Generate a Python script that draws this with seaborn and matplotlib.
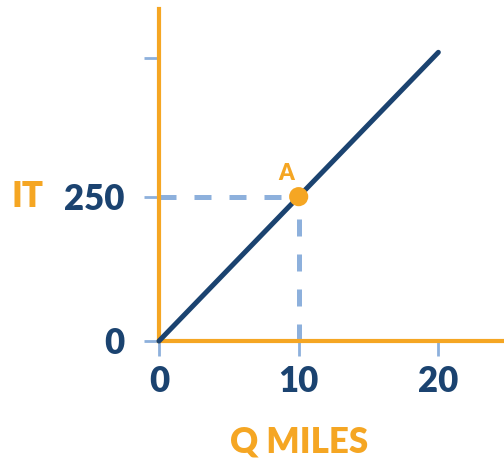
import numpy as np
import pandas as pd
import seaborn as sns
import matplotlib.pyplot as plt

# %% Values
q_miles = [0, 10, 20]
it_vals = [0, 250, 500]

point_q = [10]
point_it = [250]
point_label = 'A'

x_ticks = [0, 10, 20]
x_tick_labels = ['0', '10', '20']
y_ticks = [0, 250, 490]
y_tick_labels = ['0', '250', '']

x_max = 24.7
y_max = 575

# %% Colours
orange = '#F5A623'
navy = '#1B4370'
light_blue = '#8DB0DC'

sns.set_style('white')
plt.rcParams['font.family'] = ['Lato', 'DejaVu Sans']

fig = plt.figure(figsize=(5.04, 4.62), dpi=100)
ax = fig.add_axes([159 / 504, 121 / 462, 345 / 504, 332 / 462])

line_df = pd.DataFrame({'q': q_miles, 'it': it_vals})
pt_df = pd.DataFrame({'q': point_q, 'it': point_it})

# dashed guide lines to the point
ax.plot([0, point_q[0]], [point_it[0], point_it[0]], color=light_blue, lw=3.6,
        dashes=(3.4, 3.6), zorder=2, clip_on=False)
ax.plot([point_q[0], point_q[0]], [0, point_it[0]], color=light_blue, lw=3.6,
        dashes=(3.4, 3.6), zorder=2, clip_on=False)

sns.lineplot(data=line_df, x='q', y='it', color=navy, lw=3.6, ax=ax,
             zorder=4, clip_on=False, solid_capstyle='round')
sns.scatterplot(data=pt_df, x='q', y='it', color=orange, s=190, ax=ax,
                zorder=5, edgecolor='none', clip_on=False)
ax.text(point_q[0] - 0.9, point_it[0] + 22, point_label, color=orange,
        fontsize=16, fontweight='heavy', ha='center', va='bottom')

ax.set_xlim(0, x_max)
ax.set_ylim(0, y_max)

for s in ['top', 'right']:
    ax.spines[s].set_visible(False)
for s in ['left', 'bottom']:
    ax.spines[s].set_color(orange)
    ax.spines[s].set_linewidth(3)
    ax.spines[s].set_zorder(3)

ax.set_xticks(x_ticks)
ax.set_xticklabels(x_tick_labels)
ax.set_yticks(y_ticks)
ax.set_yticklabels(y_tick_labels)
# seaborn's white style switches ticks off, turn them back on
ax.tick_params(axis='both', direction='out', length=11, width=2,
               color=light_blue, labelcolor=navy, labelsize=25,
               left=True, bottom=True)
ax.tick_params(axis='x', pad=6)
ax.tick_params(axis='y', pad=14)
for lbl in ax.get_xticklabels() + ax.get_yticklabels():
    lbl.set_fontweight('heavy')

ax.set_xlabel('')
ax.set_ylabel('')

fig.text(299 / 504, 1 - 442 / 462, 'Q MILES', color=orange, fontsize=25,
         fontweight='heavy', ha='center', va='center')
fig.text(27 / 504, 1 - 196 / 462, 'IT', color=orange, fontsize=25,
         fontweight='heavy', ha='center', va='center')

fig.savefig('out.png', dpi=100)
